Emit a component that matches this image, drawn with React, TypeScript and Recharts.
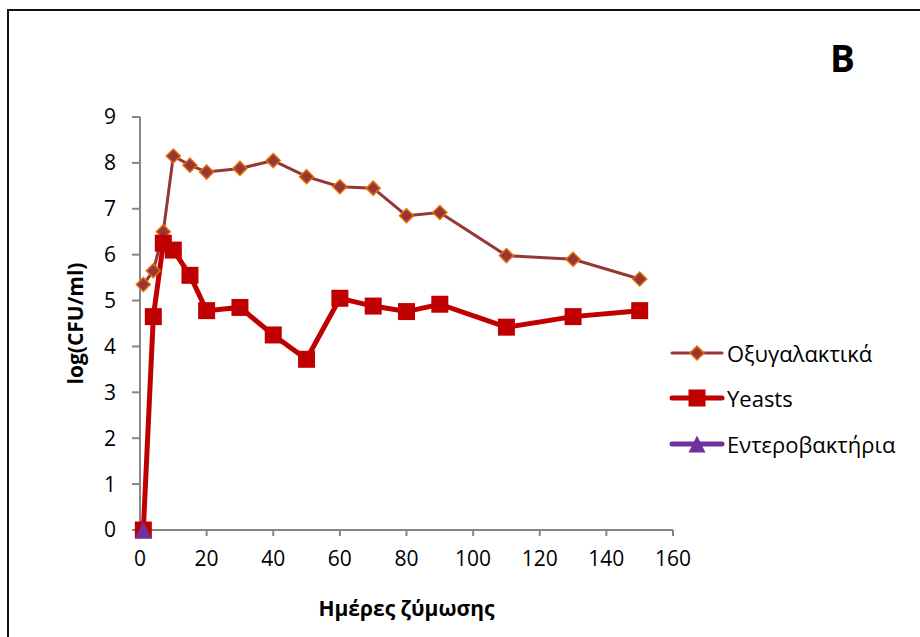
import { LineChart, Line, XAxis, YAxis } from 'recharts';

// Ημέρες ζύμωσης και log(CFU/ml) ανά ομάδα μικροοργανισμών
const lacticDays = [1, 4, 7, 10, 15, 20, 30, 40, 50, 60, 70, 80, 90, 110, 130, 150];
const lacticValues = [5.35, 5.65, 6.5, 8.15, 7.95, 7.8, 7.88, 8.05, 7.7, 7.48, 7.45, 6.85, 6.92, 5.98, 5.9, 5.47];

const yeastDays = [1, 4, 7, 10, 15, 20, 30, 40, 50, 60, 70, 80, 90, 110, 130, 150];
const yeastValues = [0, 4.65, 6.25, 6.1, 5.55, 4.78, 4.85, 4.25, 3.72, 5.05, 4.88, 4.76, 4.92, 4.42, 4.65, 4.78];

const enteroDays = [1];
const enteroValues = [0];

const xTicks = [0, 20, 40, 60, 80, 100, 120, 140, 160];
const yTicks = [0, 1, 2, 3, 4, 5, 6, 7, 8, 9];

const lacticData = lacticDays.map((day, i) => ({ day, value: lacticValues[i] }));
const yeastData = yeastDays.map((day, i) => ({ day, value: yeastValues[i] }));
const enteroData = enteroDays.map((day, i) => ({ day, value: enteroValues[i] }));

const FONT = '"Open Sans", "Noto Sans", sans-serif';
const AXIS = '#868686';

const LACTIC = '#953735';
const LACTIC_EDGE = '#E46C0A';
const YEAST = '#C00000';
const ENTERO = '#7030A0';

function Diamond({ cx, cy }: any) {
  if (cx == null || cy == null) return null;
  const r = 7;
  return (
    <polygon
      points={`${cx},${cy - r} ${cx + r},${cy} ${cx},${cy + r} ${cx - r},${cy}`}
      fill={LACTIC}
      stroke={LACTIC_EDGE}
      strokeWidth={1.5}
    />
  );
}

function Square({ cx, cy }: any) {
  if (cx == null || cy == null) return null;
  const r = 8.5;
  return <rect x={cx - r} y={cy - r} width={r * 2} height={r * 2} fill={YEAST} />;
}

function Triangle({ cx, cy }: any) {
  if (cx == null || cy == null) return null;
  const r = 8.5;
  return (
    <polygon
      points={`${cx},${cy - r} ${cx + r},${cy + r} ${cx - r},${cy + r}`}
      fill={ENTERO}
    />
  );
}

const legendItems = [
  { name: 'Οξυγαλακτικά', color: LACTIC, width: 3, Marker: Diamond },
  { name: 'Yeasts', color: YEAST, width: 5, Marker: Square },
  { name: 'Εντεροβακτήρια', color: ENTERO, width: 5, Marker: Triangle },
];

function SeriesLegend() {
  return (
    <div style={{ position: 'absolute', left: 668, top: 330 }}>
      {legendItems.map(({ name, color, width, Marker }) => (
        <div key={name} style={{ display: 'flex', alignItems: 'center', height: 45.5 }}>
          <svg width={58} height={24}>
            <line x1={4} y1={12} x2={54} y2={12} stroke={color} strokeWidth={width} strokeLinecap="round" />
            <Marker cx={29} cy={12} />
          </svg>
          <span style={{ fontFamily: FONT, fontSize: 22, color: '#000', marginLeft: 1 }}>{name}</span>
        </div>
      ))}
    </div>
  );
}

export default function App() {
  return (
    <div
      style={{
        position: 'absolute',
        left: 0,
        top: 0,
        width: 920,
        height: 637,
        background: '#fff',
        overflow: 'hidden',
      }}
    >
      <div
        style={{
          position: 'absolute',
          left: 7,
          top: 9,
          width: 940,
          height: 660,
          borderLeft: '2px solid #111',
          borderTop: '2px solid #111',
        }}
      />
      <div
        style={{
          position: 'absolute',
          left: 830,
          top: 39,
          fontFamily: FONT,
          fontWeight: 700,
          fontSize: 37,
          lineHeight: 1,
          color: '#000',
        }}
      >
        B
      </div>
      <LineChart
        width={920}
        height={637}
        margin={{ top: 117, right: 247, bottom: 77, left: 80 }}
        style={{ position: 'absolute', left: 0, top: 0 }}
      >
        <XAxis
          dataKey="day"
          type="number"
          domain={[0, 160]}
          ticks={xTicks}
          allowDuplicatedCategory={false}
          height={30}
          stroke={AXIS}
          strokeWidth={2}
          tickSize={6}
          tickMargin={15}
          tick={{ fill: '#000', fontSize: 21, fontFamily: FONT }}
          label={{
            value: 'Ημέρες ζύμωσης',
            position: 'insideBottom',
            offset: -56,
            style: { fill: '#000', fontSize: 21, fontWeight: 700, fontFamily: FONT },
          }}
        />
        <YAxis
          dataKey="value"
          type="number"
          domain={[0, 9]}
          ticks={yTicks}
          width={60}
          stroke={AXIS}
          strokeWidth={2}
          tickSize={8}
          tickMargin={16}
          tick={{ fill: '#000', fontSize: 21, fontFamily: FONT }}
          label={{
            value: 'log(CFU/ml)',
            angle: -90,
            position: 'insideLeft',
            offset: -4,
            style: { fill: '#000', fontSize: 21, fontWeight: 700, fontFamily: FONT, textAnchor: 'middle' },
          }}
        />
        <Line
          data={lacticData}
          dataKey="value"
          name="Οξυγαλακτικά"
          stroke={LACTIC}
          strokeWidth={3}
          dot={<Diamond />}
          isAnimationActive={false}
        />
        <Line
          data={yeastData}
          dataKey="value"
          name="Yeasts"
          stroke={YEAST}
          strokeWidth={5}
          dot={<Square />}
          isAnimationActive={false}
        />
        <Line
          data={enteroData}
          dataKey="value"
          name="Εντεροβακτήρια"
          stroke={ENTERO}
          strokeWidth={5}
          dot={<Triangle />}
          isAnimationActive={false}
        />
      </LineChart>
      <SeriesLegend />
    </div>
  );
}
